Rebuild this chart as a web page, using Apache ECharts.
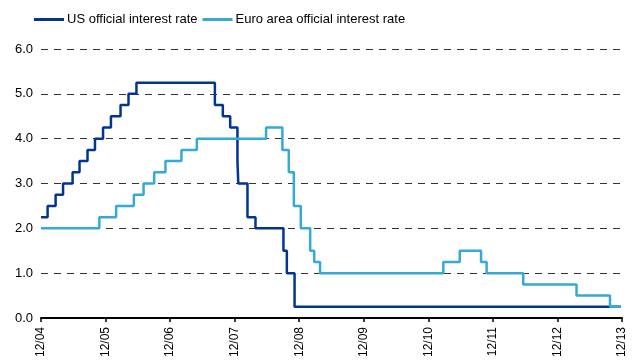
<!DOCTYPE html>
<html>
<head>
<meta charset="utf-8">
<script src="https://cdn.jsdelivr.net/npm/echarts@6/dist/echarts.min.js"></script>
<style>
  html, body { margin: 0; padding: 0; background: #fff; }
  #chart { width: 637px; height: 361px; }
</style>
</head>
<body>
<div id="chart"></div>
<script>
// Policy rate changes: the date each level starts and the rate (%) from then on
const usDates = ['2004-12-01', '2005-01-08', '2005-02-21', '2005-04-04', '2005-05-28', '2005-07-06',
  '2005-08-21', '2005-10-02', '2005-11-17', '2006-01-01', '2006-02-23', '2006-04-09', '2006-05-24',
  '2007-08-11', '2007-09-25', '2007-11-06', '2007-12-17', '2007-12-22', '2008-02-12', '2008-03-28',
  '2008-09-03', '2008-09-22', '2008-11-05', '2013-11-25'];
const usRates = [2.25, 2.5, 2.75, 3.0, 3.25, 3.5,
  3.75, 4.0, 4.25, 4.5, 4.75, 5.0, 5.25,
  4.75, 4.5, 4.25, 3.5, 3.0, 2.25, 2.0,
  1.5, 1.0, 0.25, 0.25];

const euroDates = ['2004-12-01', '2005-10-27', '2006-01-31', '2006-05-09', '2006-07-03', '2006-09-02',
  '2006-11-05', '2007-02-04', '2007-04-30', '2008-05-27', '2008-08-28', '2008-10-03', '2008-11-01',
  '2008-12-10', '2009-02-02', '2009-02-23', '2009-03-28', '2011-02-23', '2011-05-27', '2011-09-25',
  '2011-10-27', '2012-05-21', '2013-03-18', '2013-09-24', '2013-11-25'];
const euroRates = [2.0, 2.25, 2.5, 2.75, 3.0, 3.25,
  3.5, 3.75, 4.0, 4.25, 3.75, 3.25, 2.5,
  2.0, 1.5, 1.25, 1.0, 1.25, 1.5, 1.25,
  1.0, 0.75, 0.5, 0.25, 0.25];

const seriesNames = ['US official interest rate', 'Euro area official interest rate'];
const yTicks = [0, 1, 2, 3, 4, 5, 6];
const xTickYears = ['04', '05', '06', '07', '08', '09', '10', '11', '12', '13'];

// x position in months counted from the start of December 2004
function toMonths(s) {
  const [y, m, d] = s.split('-').map(Number);
  const daysInMonth = new Date(Date.UTC(y, m, 0)).getUTCDate();
  return (y - 2004) * 12 + (m - 12) + (d - 1) / daysInMonth;
}
const pairs = (dates, rates) => dates.map((d, i) => [toMonths(d), rates[i]]);

const chart = echarts.init(document.getElementById('chart'), null, { renderer: 'canvas' });
chart.setOption({
  animation: false,
  backgroundColor: '#ffffff',
  textStyle: { fontFamily: 'Liberation Sans, Arial, sans-serif' },
  legend: {
    left: 29,
    top: 8,
    icon: 'rect',
    itemWidth: 30,
    itemHeight: 3,
    itemGap: 5,
    textStyle: { fontSize: 13, color: '#000', padding: [0, 0, 0, -2] },
    data: seriesNames
  },
  grid: { left: 41, right: 15, top: 49, bottom: 43, containLabel: false },
  xAxis: {
    type: 'value',
    min: 0,
    max: (xTickYears.length - 1) * 12,
    interval: 12,
    axisLine: { show: true, lineStyle: { color: '#000', width: 2 } },
    axisTick: { show: true, length: 4, lineStyle: { color: '#000', width: 1.5 } },
    splitLine: { show: false },
    axisLabel: {
      rotate: 90,
      margin: 9,
      fontSize: 12,
      color: '#000',
      formatter: v => '12/' + xTickYears[Math.round(v / 12)]
    }
  },
  yAxis: {
    type: 'value',
    min: yTicks[0],
    max: yTicks[yTicks.length - 1],
    interval: 1,
    axisLine: { show: false },
    axisTick: { show: false },
    axisLabel: { fontSize: 13, color: '#000', margin: 8, formatter: v => v.toFixed(1) },
    splitLine: { show: true, lineStyle: { color: '#333', width: 1, type: [7, 6] } }
  },
  series: [
    {
      name: seriesNames[0],
      type: 'line',
      step: 'end',
      showSymbol: false,
      color: '#003591',
      lineStyle: { width: 2.5, color: '#003591' },
      data: pairs(usDates, usRates)
    },
    {
      name: seriesNames[1],
      type: 'line',
      step: 'end',
      showSymbol: false,
      color: '#36aad6',
      lineStyle: { width: 2.5, color: '#36aad6' },
      data: pairs(euroDates, euroRates)
    }
  ]
});
</script>
</body>
</html>
